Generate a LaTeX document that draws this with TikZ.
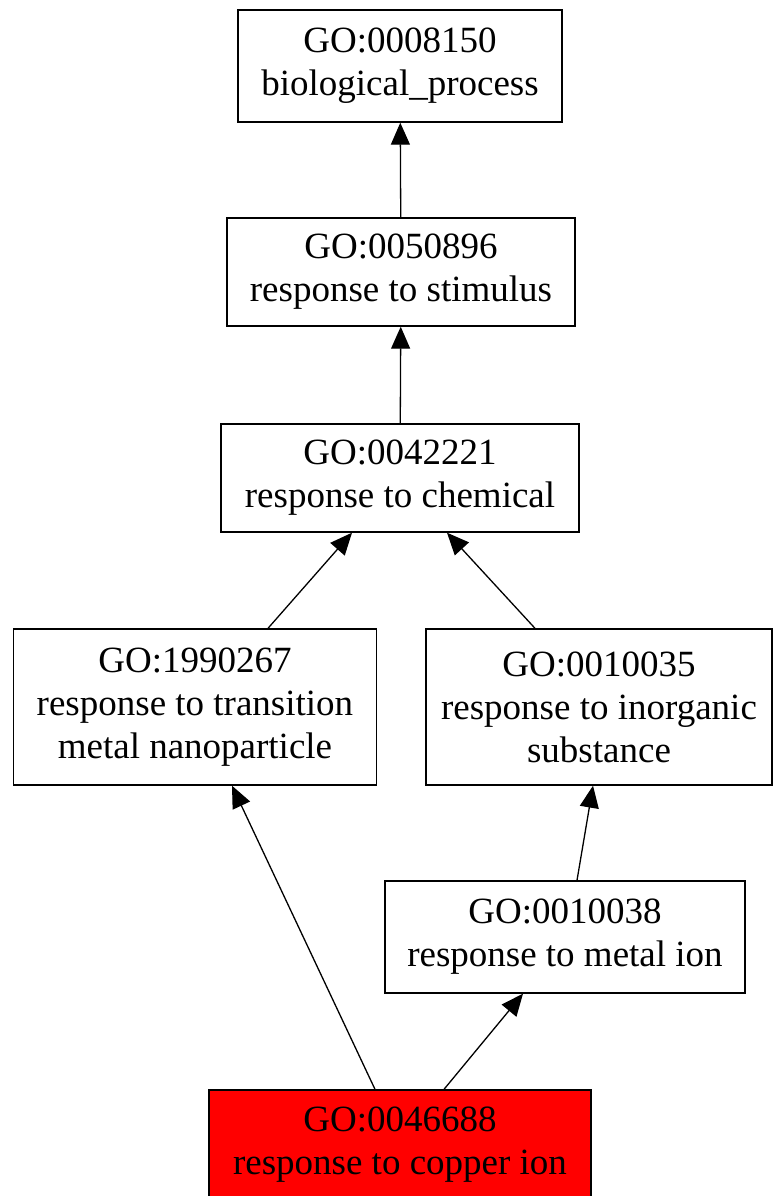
\documentclass[tikz,border=0pt]{standalone}
\usepackage{fontspec}
\setmainfont{Liberation Serif}
\usetikzlibrary{arrows.meta}
\begin{document}
\begin{tikzpicture}[x=1pt,y=-1pt,>={Triangle[length=22pt,width=19pt]},
	goterm/.style={draw,line width=1.4pt,rectangle,align=center,inner sep=0pt,
		font=\fontsize{37}{43}\selectfont},
	isa/.style={->,line width=1.3pt}]
	\useasboundingbox (0,0) rectangle (775,1196);
	\node[goterm,minimum width=324pt,minimum height=112pt] (bp) at (400,66) {GO:0008150\\biological\_process};
	\node[goterm,minimum width=348pt,minimum height=108pt] (stim) at (401,272) {GO:0050896\\response to stimulus};
	\node[goterm,minimum width=358pt,minimum height=108pt] (chem) at (400,478) {GO:0042221\\response to chemical};
	\node[goterm,minimum width=363pt,minimum height=156pt] (nano) at (195,707) {GO:1990267\\response to transition\\metal nanoparticle};
	\node[goterm,minimum width=346pt,minimum height=156pt] (inorg) at (599,707) {GO:0010035\\response to inorganic\\substance};
	\node[goterm,minimum width=360pt,minimum height=112pt] (metal) at (565,937) {GO:0010038\\response to metal ion};
	\node[goterm,fill=red,minimum width=382pt,minimum height=110pt] (copper) at (400,1145) {GO:0046688\\response to copper ion};
	% is_a edges
	\draw[isa] (stim) -- (bp);
	\draw[isa] (chem) -- (stim);
	\draw[isa] ([xshift=73pt]nano.north) -- ([xshift=-48pt]chem.south);
	\draw[isa] ([xshift=-64pt]inorg.north) -- ([xshift=47pt]chem.south);
	\draw[isa] ([xshift=-25pt]copper.north) -- ([xshift=37pt]nano.south);
	\draw[isa] ([xshift=44pt]copper.north) -- ([xshift=-42pt]metal.south);
	\draw[isa] ([xshift=12pt]metal.north) -- ([xshift=-6pt]inorg.south);
\end{tikzpicture}
\end{document}
